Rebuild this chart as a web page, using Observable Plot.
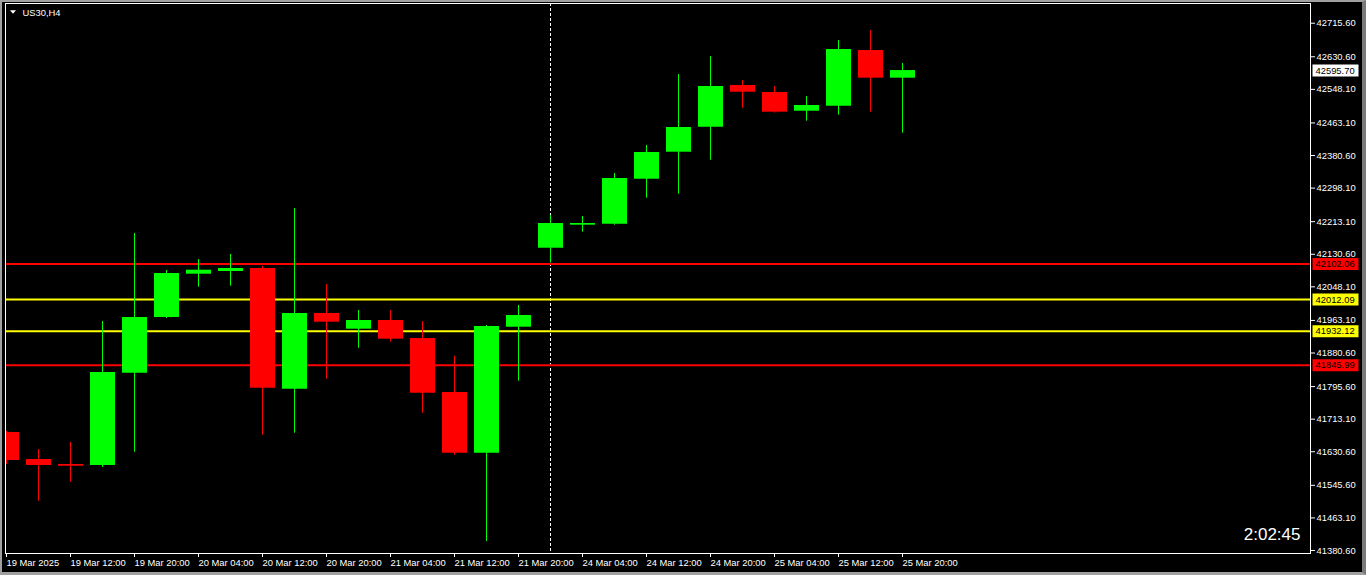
<!DOCTYPE html>
<html><head><meta charset="utf-8">
<script src="https://cdn.jsdelivr.net/npm/d3@7"></script>
<script src="https://cdn.jsdelivr.net/npm/@observablehq/plot@0.6"></script>
<style>
html,body{margin:0;padding:0;background:#000;}
#wrap{position:relative;width:1366px;height:575px;overflow:hidden;background:#000;}
#wrap svg{display:block;}
#edge{position:absolute;left:0;top:0;width:1366px;height:575px;box-sizing:border-box;border-left:2px solid #a0a0a0;border-top:2px solid #a0a0a0;border-right:4px solid #7a7a7a;border-bottom:3px solid #a0a0a0;pointer-events:none;}
</style></head><body><div id="wrap"><div id="edge"></div></div>
<script>
const symbolName = "US30,H4";
const countdown = "2:02:45";
const barTimes = ["19 Mar 04:00","19 Mar 08:00","19 Mar 12:00","19 Mar 16:00","19 Mar 20:00",
  "20 Mar 00:00","20 Mar 04:00","20 Mar 08:00","20 Mar 12:00","20 Mar 16:00","20 Mar 20:00",
  "21 Mar 00:00","21 Mar 04:00","21 Mar 08:00","21 Mar 12:00","21 Mar 16:00","21 Mar 20:00",
  "24 Mar 00:00","24 Mar 04:00","24 Mar 08:00","24 Mar 12:00","24 Mar 16:00","24 Mar 20:00",
  "25 Mar 00:00","25 Mar 04:00","25 Mar 08:00","25 Mar 12:00","25 Mar 16:00","25 Mar 20:00"];
const opens  = [41679.3,41611.0,41598.3,41595.8,41829.5,41970.5,42080.1,42087.0,42094.5,41789.0,41980.6,41940.9,41962.9,41917.3,41780.6,41626.9,41945.9,42145.9,42204.2,42206.7,42320.6,42389.0,42452.3,42557.9,42540.1,42492.8,42505.5,42646.5,42576.4];
const highs  = [41681.9,41636.3,41654.0,41960.4,42183.2,42089.5,42117.3,42130.0,42099.6,42246.5,42054.0,41988.2,41988.2,41960.4,41872.5,41950.2,42000.9,42228.7,42226.2,42335.1,42406.0,42585.7,42631.3,42570.5,42555.3,42530.0,42671.8,42697.1,42613.6];
const lows   = [41598.3,41505.4,41553.5,41590.7,41629.5,41968.0,42047.2,42049.7,41672.5,41677.6,41814.3,41892.8,41908.0,41728.2,41621.9,41403.4,41809.2,42108.0,42186.5,42204.2,42272.5,42282.7,42368.7,42500.4,42488.0,42467.5,42482.7,42490.3,42437.1];
const closes = [41608.4,41595.8,41594.0,41831.2,41970.5,42081.9,42090.3,42094.5,41791.5,41980.6,41958.6,41962.9,41915.6,41778.8,41626.9,41947.7,41975.6,42208.5,42208.5,42322.4,42388.2,42451.5,42555.3,42540.9,42490.3,42507.2,42649.0,42576.4,42595.7];
const levelValues = [42102.06, 42012.09, 41932.12, 41845.99];
const levelColors = ["#ff0000", "#ffff00", "#ffff00", "#ff0000"];
const currentPrice = 42595.70;
const crosshairBar = "24 Mar 00:00";
const yTickValues = [42715.60,42630.60,42548.10,42463.10,42380.60,42298.10,42213.10,42130.60,42048.10,41963.10,41880.60,41795.60,41713.10,41630.60,41545.60,41463.10,41380.60];
const xTickBars = ["19 Mar 04:00","19 Mar 12:00","19 Mar 20:00","20 Mar 04:00","20 Mar 12:00","20 Mar 20:00","21 Mar 04:00","21 Mar 12:00","21 Mar 20:00","24 Mar 04:00","24 Mar 12:00","24 Mar 20:00","25 Mar 04:00","25 Mar 12:00","25 Mar 20:00"];
const xTickLabels = ["19 Mar 2025","19 Mar 12:00","19 Mar 20:00","20 Mar 04:00","20 Mar 12:00","20 Mar 20:00","21 Mar 04:00","21 Mar 12:00","21 Mar 20:00","24 Mar 04:00","24 Mar 12:00","24 Mar 20:00","25 Mar 04:00","25 Mar 12:00","25 Mar 20:00"];

const UP = "#00ff00", DOWN = "#ff0000";
const bars = barTimes.map((t, i) => ({i, t, o: opens[i], h: highs[i], l: lows[i], c: closes[i],
  col: closes[i] >= opens[i] ? UP : DOWN}));
const levels = levelValues.map((v, k) => ({v, col: levelColors[k]}));
const idx = t => barTimes.indexOf(t);
const xTickIdx = xTickBars.map(idx);

const boxSymbol = {draw(ctx) { ctx.rect(2, -6, 46, 12); }};
const triSymbol = {draw(ctx) { ctx.moveTo(-3, -1.8); ctx.lineTo(3, -1.8); ctx.lineTo(0, 1.8); ctx.closePath(); }};

const chart = Plot.plot({
  width: 1366, height: 575,
  marginLeft: 5, marginRight: 56, marginTop: 3, marginBottom: 22,
  style: {background: "#000", color: "#fff", fontFamily: "'Liberation Sans', Arial, sans-serif", fontSize: "9.4px"},
  x: {type: "linear", domain: [-0.03125, 40.75], axis: null},
  y: {domain: [41373.0, 42765.5], axis: null},
  marks: [
    Plot.ruleX([idx(crosshairBar)], {x: d => d, stroke: "#fff", strokeWidth: 1, strokeDasharray: "3,2", clip: true}),
    Plot.ruleY(levels, {y: "v", stroke: "col", strokeWidth: 2, dy: -1.5, clip: true}),
    Plot.ruleX(bars, {x: "i", y1: "l", y2: "h", stroke: "col", strokeWidth: 1, clip: true}),
    Plot.ruleX(bars, {x: "i", y1: "o", y2: "c", stroke: "col", strokeWidth: 25, clip: true}),
    Plot.frame({stroke: "#fff"}),
    Plot.axisY({anchor: "right", ticks: yTickValues, tickFormat: d => d.toFixed(2), tickSize: 4, tickPadding: 2, textAnchor: "start", label: null}),
    Plot.axisX({anchor: "bottom", ticks: xTickIdx, tickFormat: d => xTickLabels[xTickIdx.indexOf(d)], tickSize: 4, tickPadding: 2, textAnchor: "start", label: null}),
    Plot.dot(levels, {y: "v", frameAnchor: "right", dy: -1.5, symbol: boxSymbol, fill: "col", stroke: null}),
    Plot.text(levels, {y: "v", text: d => d.v.toFixed(2), frameAnchor: "right", textAnchor: "start", dx: 5, dy: -1.5, fill: "#000"}),
    Plot.dot([currentPrice], {y: d => d, frameAnchor: "right", symbol: boxSymbol, fill: "#fff", stroke: null}),
    Plot.text([currentPrice], {y: d => d, text: d => d.toFixed(2), frameAnchor: "right", textAnchor: "start", dx: 5, fill: "#000"}),
    Plot.dot([0], {frameAnchor: "top-left", dx: 7.5, dy: 8.5, symbol: triSymbol, fill: "#fff", stroke: null}),
    Plot.text([symbolName], {text: d => d, frameAnchor: "top-left", dx: 17, dy: 9, textAnchor: "start", lineAnchor: "middle", fill: "#fff"}),
    Plot.text([countdown], {text: d => d, frameAnchor: "bottom-right", dx: -10, dy: -19, textAnchor: "end", lineAnchor: "middle", fontSize: 17, fill: "#fff"})
  ]
});
document.getElementById("wrap").prepend(chart);
</script>
</body></html>
